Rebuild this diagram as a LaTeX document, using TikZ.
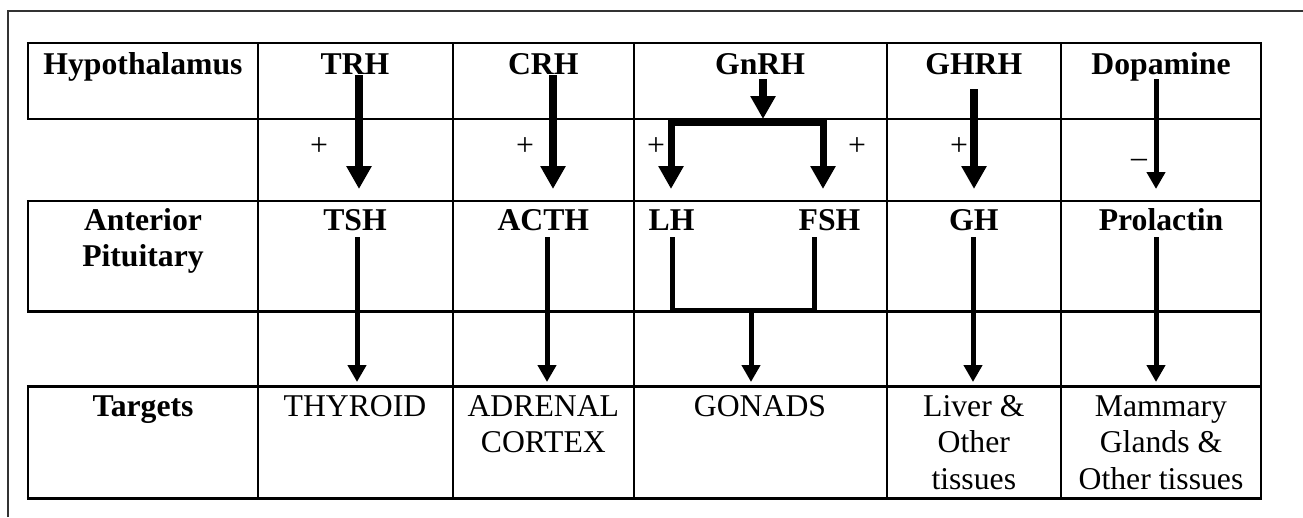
\documentclass[tikz,border=0pt]{standalone}
\usepackage{fontspec}
\setmainfont{Liberation Serif}
\usetikzlibrary{arrows.meta}
\begin{document}
\begin{tikzpicture}[x=1pt,y=-1pt,
  grid/.style={line width=2.4pt, black},
  frame/.style={line width=2.4pt, black!80},
  lbl/.style={anchor=base, inner sep=0pt, align=center, font={\fontsize{31.7}{36.6}\selectfont}},
  hd/.style={lbl, font={\bfseries\fontsize{31.7}{36.6}\selectfont}},
  sgn/.style={anchor=base, inner sep=0pt, font={\fontsize{31.7}{36.6}\selectfont}},
  bigarrow/.style={line width=8pt, -{Triangle[length=23pt,width=24pt]}},
  midarrow/.style={line width=5pt, -{Triangle[length=17pt,width=18pt]}},
  splitarrow/.style={line width=7pt, line join=miter, {Triangle[length=23pt,width=24pt]}-{Triangle[length=23pt,width=24pt]}},
  bracket/.style={line width=5pt, line join=miter}]
\useasboundingbox (0,0) rectangle (1303,517);
% outer frame
\draw[frame] (8,517) -- (8,11) -- (1303,11);
% table grid
\foreach \yy in {43,119,200.7,311.3,386.3,498.3}
  \draw[grid] (26.8,\yy) -- (1262.2,\yy);
\foreach \xx in {258,452.7,634,886.7,1061,1261}
  \draw[grid] (\xx,43) -- (\xx,498.3);
\draw[grid] (28,43) -- (28,119);
\draw[grid] (28,200.7) -- (28,311.3);
\draw[grid] (28,386.3) -- (28,498.3);
% row 1 (anchor = baseline of the last line)
\node[hd] (hyp) at (143,74) {Hypothalamus};
\node[hd] (trh) at (355,74) {TRH};
\node[hd] (crh) at (543.3,74) {CRH};
\node[hd] (gnrh) at (760,74) {GnRH};
\node[hd] (ghrh) at (973.8,74) {GHRH};
\node[hd] (dop) at (1161,74) {Dopamine};
% signs
\node[sgn] (p1) at (319,155) {+};
\node[sgn] (p2) at (525,155) {+};
\node[sgn] (p3) at (656,155) {+};
\node[sgn] (p4) at (857,155) {+};
\node[sgn] (p5) at (959,155) {+};
\node[sgn] (m1) at (1139,167) {–};
% row 3
\node[hd] (ant) at (143,266.6) {Anterior\\Pituitary};
\node[hd] (tsh) at (355,230) {TSH};
\node[hd] (acth) at (543.3,230) {ACTH};
\node[hd] (lh) at (671.5,230) {LH};
\node[hd] (fsh) at (829.5,230) {FSH};
\node[hd] (gh) at (973.8,230) {GH};
\node[hd] (prl) at (1161,230) {Prolactin};
% row 5
\node[hd] (tgt) at (143,416) {Targets};
\node[lbl] (thy) at (355,416) {THYROID};
\node[lbl] (adr) at (543.3,452.6) {ADRENAL\\CORTEX};
\node[lbl] (gon) at (760,416) {GONADS};
\node[lbl] (liv) at (973.8,489.2) {Liver \&\\Other\\tissues};
\node[lbl] (mam) at (1161,489.2) {Mammary\\Glands \&\\Other tissues};
% arrow coordinates
\coordinate (trhS) at (359,75);   \coordinate (trhE) at (359,189);
\coordinate (tshS) at (357,237);  \coordinate (tshE) at (357,382);
\coordinate (crhS) at (553,75);   \coordinate (crhE) at (553,189);
\coordinate (acthS) at (547,237); \coordinate (acthE) at (547,382);
\coordinate (gnS) at (763,79);    \coordinate (gnE) at (763,119);
\coordinate (gL) at (671,189);    \coordinate (gBL) at (671,122);
\coordinate (gBR) at (823,122);   \coordinate (gR) at (823,189);
\coordinate (lhT) at (672,237);   \coordinate (lhB) at (672,310);
\coordinate (fshB) at (814,310);  \coordinate (fshT) at (814,237);
\coordinate (gonS) at (751,310);  \coordinate (gonE) at (751,382);
\coordinate (ghrhS) at (974,89);  \coordinate (ghrhE) at (974,189);
\coordinate (ghS) at (973,237);   \coordinate (ghE) at (973,382);
\coordinate (dopS) at (1156,79);  \coordinate (dopE) at (1156,189);
\coordinate (prlS) at (1156,237); \coordinate (prlE) at (1156,382);
% arrows
\draw[bigarrow] (trhS) -- (trhE);
\draw[midarrow] (tshS) -- (tshE);
\draw[bigarrow] (crhS) -- (crhE);
\draw[midarrow] (acthS) -- (acthE);
\draw[bigarrow] (gnS) -- (gnE);
\draw[splitarrow] (gL) -- (gBL) -- (gBR) -- (gR);
\draw[bracket] (lhT) -- (lhB) -- (fshB) -- (fshT);
\draw[midarrow] (gonS) -- (gonE);
\draw[bigarrow] (ghrhS) -- (ghrhE);
\draw[midarrow] (ghS) -- (ghE);
\draw[midarrow] (dopS) -- (dopE);
\draw[midarrow] (prlS) -- (prlE);
\end{tikzpicture}
\end{document}
